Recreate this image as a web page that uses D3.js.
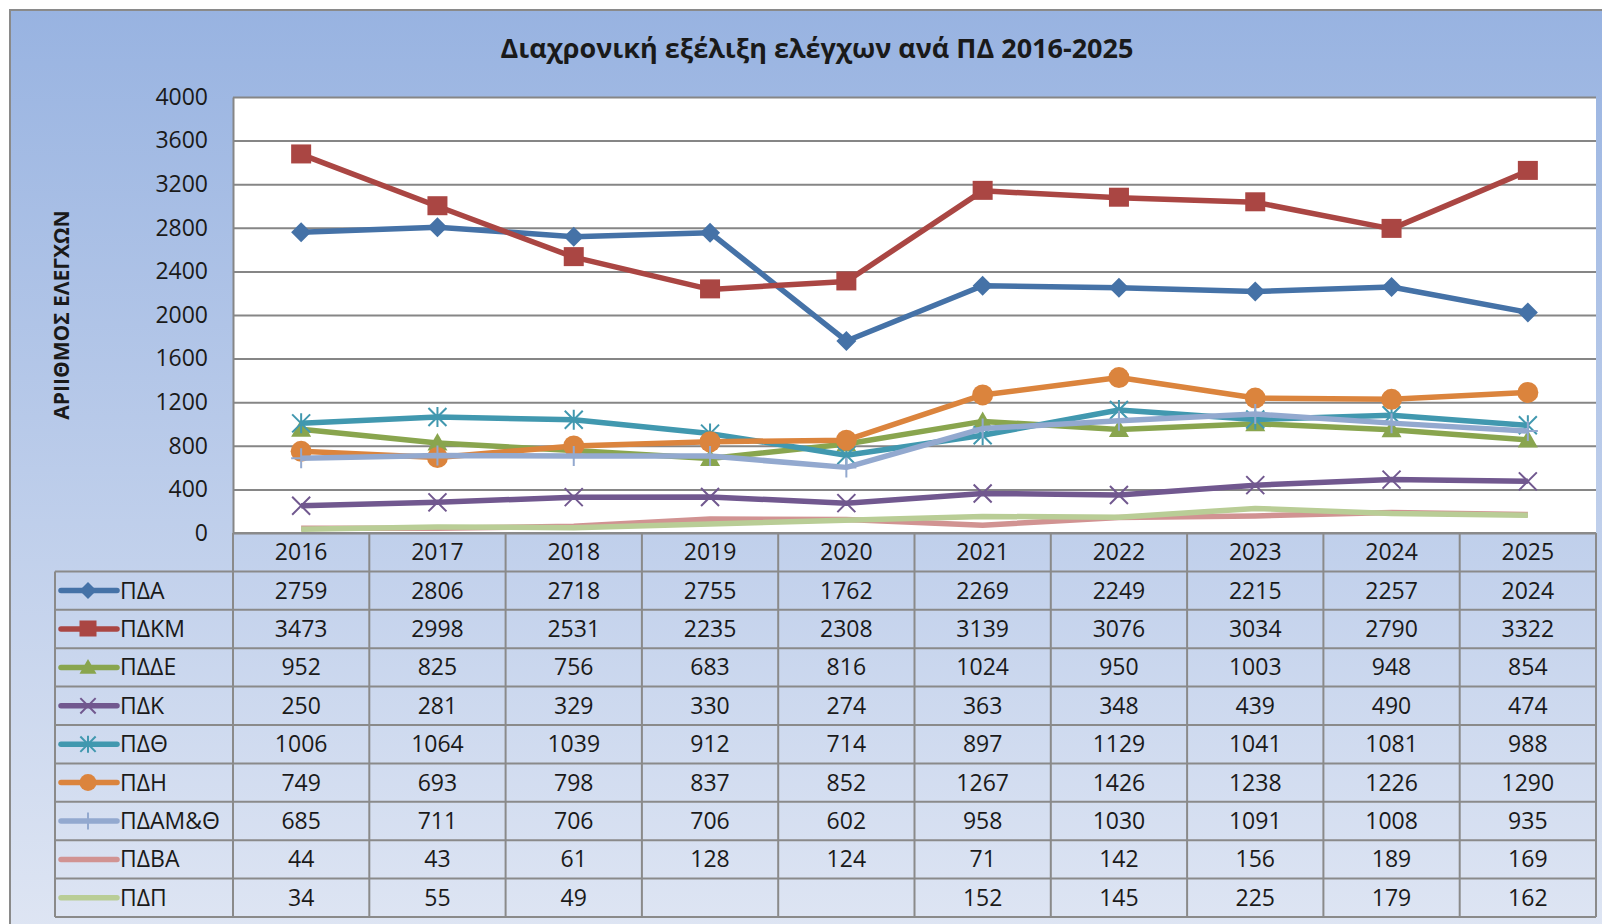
<!DOCTYPE html>
<html>
<head>
<meta charset="utf-8">
<script src="https://cdn.jsdelivr.net/npm/d3@7"></script>
<style>
  body { margin: 0; background: #fff; }
  text { font-family: "Open Sans", "Noto Sans", sans-serif; fill: #1a1a1a; }
</style>
</head>
<body>
<svg id="chart" width="1602" height="924"></svg>
<script>
// data
const years = [2016, 2017, 2018, 2019, 2020, 2021, 2022, 2023, 2024, 2025];
const seriesNames = ["ΠΔΑ", "ΠΔΚΜ", "ΠΔΔΕ", "ΠΔΚ", "ΠΔΘ", "ΠΔΗ", "ΠΔΑΜ&Θ", "ΠΔΒΑ", "ΠΔΠ"];
const pda   = [2759, 2806, 2718, 2755, 1762, 2269, 2249, 2215, 2257, 2024];
const pdkm  = [3473, 2998, 2531, 2235, 2308, 3139, 3076, 3034, 2790, 3322];
const pdde  = [952, 825, 756, 683, 816, 1024, 950, 1003, 948, 854];
const pdk   = [250, 281, 329, 330, 274, 363, 348, 439, 490, 474];
const pdth  = [1006, 1064, 1039, 912, 714, 897, 1129, 1041, 1081, 988];
const pdh   = [749, 693, 798, 837, 852, 1267, 1426, 1238, 1226, 1290];
const pdamth = [685, 711, 706, 706, 602, 958, 1030, 1091, 1008, 935];
const pdva  = [44, 43, 61, 128, 124, 71, 142, 156, 189, 169];
const pdp   = [34, 55, 49, null, null, 152, 145, 225, 179, 162];
const yTicks = [0, 400, 800, 1200, 1600, 2000, 2400, 2800, 3200, 3600, 4000];

const colors  = ["#4572A7", "#AA4643", "#89A54E", "#71588F", "#4198AF", "#DB843D", "#93A9CF", "#D19392", "#B9CD96"];
const markers = ["diamond", "square", "triangle", "x", "star", "circle", "plus", null, null];
const values  = [pda, pdkm, pdde, pdk, pdth, pdh, pdamth, pdva, pdp];

const series = seriesNames.map((name, i) => ({
  name, color: colors[i], marker: markers[i],
  points: years.map((yr, j) => ({ year: yr, v: values[i][j] }))
}));

const svg = d3.select("#chart");

// background gradient
const defs = svg.append("defs");
const grad = defs.append("linearGradient").attr("id", "bg")
  .attr("x1", 0).attr("y1", 0).attr("x2", 0).attr("y2", 1);
grad.append("stop").attr("offset", "0%").attr("stop-color", "#98B3E1");
grad.append("stop").attr("offset", "100%").attr("stop-color", "#DEE5F3");

svg.append("rect").attr("x", 10).attr("y", 10).attr("width", 1600).attr("height", 920)
  .attr("fill", "url(#bg)").attr("stroke", "#8a8a8a").attr("stroke-width", 2);

// layout
const plotL = 233, plotR = 1596, plotT = 97, plotB = 533;
const tableB = 917, legL = 55;

const x = d3.scaleBand().domain(years).range([plotL, plotR]);
const y = d3.scaleLinear().domain([0, 4000]).range([plotB, plotT]);
const rows = d3.scaleBand().domain(["hdr"].concat(seriesNames)).range([plotB, tableB]);

// title
svg.append("text").attr("x", 817).attr("y", 58).attr("text-anchor", "middle")
  .style("font-size", "27px").style("font-weight", "bold")
  .text("Διαχρονική εξέλιξη ελέγχων ανά ΠΔ 2016-2025");

// y-axis title
svg.append("text").attr("transform", "translate(69,315) rotate(-90)")
  .attr("text-anchor", "middle").style("font-size", "21px").style("font-weight", "bold")
  .text("ΑΡΙΙΘΜΟΣ ΕΛΕΓΧΩΝ");

// plot area
svg.append("rect").attr("x", plotL).attr("y", plotT).attr("width", plotR - plotL).attr("height", plotB - plotT)
  .attr("fill", "#fff");

const yAxis = svg.append("g").attr("transform", `translate(${plotL},0)`)
  .call(d3.axisLeft(y).tickValues(yTicks).tickFormat(d3.format("d"))
    .tickSizeInner(-(plotR - plotL)).tickSizeOuter(0).tickPadding(25));
yAxis.select(".domain").attr("stroke", "#868686").attr("stroke-width", 2);
yAxis.selectAll(".tick line").attr("stroke", "#868686").attr("stroke-width", 2);
yAxis.selectAll(".tick text").style("font-size", "23px").style("font-family", "'Open Sans', sans-serif")
  .attr("fill", "#1a1a1a");

// table grid
const grid = svg.append("g").attr("stroke", "#8a8a8a").attr("stroke-width", 2);
rows.domain().forEach((r, i) => {
  const yy = rows(r);
  grid.append("line").attr("x1", i === 0 ? plotL : legL).attr("x2", plotR).attr("y1", yy).attr("y2", yy);
});
grid.append("line").attr("x1", legL).attr("x2", plotR).attr("y1", tableB).attr("y2", tableB);
years.forEach(yr => {
  grid.append("line").attr("x1", x(yr)).attr("x2", x(yr)).attr("y1", plotB).attr("y2", tableB);
});
grid.append("line").attr("x1", plotR).attr("x2", plotR).attr("y1", plotB).attr("y2", tableB);
grid.append("line").attr("x1", legL).attr("x2", legL).attr("y1", rows(seriesNames[0])).attr("y2", tableB);

// header row
svg.append("g").selectAll("text").data(years).join("text")
  .attr("x", d => x(d) + x.bandwidth() / 2).attr("y", rows("hdr") + rows.bandwidth() / 2)
  .attr("dy", "0.35em").attr("text-anchor", "middle").style("font-size", "23px")
  .text(d => d);

// marker drawing
function drawMarker(g, type, color, s) {
  const h = s / 2;
  if (type === "diamond") {
    g.append("path").attr("d", `M0,${-h}L${h},0L0,${h}L${-h},0Z`).attr("fill", color);
  } else if (type === "square") {
    g.append("rect").attr("x", -h).attr("y", -h).attr("width", s).attr("height", s - 1).attr("fill", color);
  } else if (type === "triangle") {
    g.append("path").attr("d", `M0,${-h}L${h},${h * 0.75}L${-h},${h * 0.75}Z`).attr("fill", color);
  } else if (type === "circle") {
    g.append("circle").attr("r", h).attr("fill", color);
  } else if (type === "x" || type === "star" || type === "plus") {
    let d = "";
    if (type !== "plus") d += `M${-h * 0.9},${-h * 0.9}L${h * 0.9},${h * 0.9}M${h * 0.9},${-h * 0.9}L${-h * 0.9},${h * 0.9}`;
    if (type !== "x") d += `M0,${-h}L0,${h}`;
    if (type === "plus") d += `M${-h},0L${h},0`;
    g.append("path").attr("d", d).attr("stroke", color).attr("stroke-width", 2).attr("fill", "none");
  }
}

// legend + values
series.forEach(s => {
  const cy = rows(s.name) + rows.bandwidth() / 2;
  const lg = svg.append("g");
  lg.append("line").attr("x1", 61).attr("x2", 117).attr("y1", cy).attr("y2", cy)
    .attr("stroke", s.color).attr("stroke-width", 5.5).attr("stroke-linecap", "round");
  if (s.marker) drawMarker(lg.append("g").attr("transform", `translate(88,${cy})`), s.marker, s.color, 17);
  lg.append("text").attr("x", 120).attr("y", cy).attr("dy", "0.35em").style("font-size", "23px").text(s.name);

  svg.append("g").selectAll("text").data(s.points.filter(p => p.v != null)).join("text")
    .attr("x", p => x(p.year) + x.bandwidth() / 2).attr("y", cy).attr("dy", "0.35em")
    .attr("text-anchor", "middle").style("font-size", "23px").text(p => p.v);
});

// lines: later series drawn on top, gaps in ΠΔΠ are bridged
const line = d3.line().x(p => x(p.year) + x.bandwidth() / 2).y(p => y(p.v));
series.forEach(s => {
  const pts = s.points.filter(p => p.v != null);
  svg.append("path").datum(pts).attr("d", line).attr("fill", "none")
    .attr("stroke", s.color).attr("stroke-width", 5.5).attr("stroke-linejoin", "round");
  if (s.marker) {
    pts.forEach(p => {
      drawMarker(svg.append("g").attr("transform", `translate(${x(p.year) + x.bandwidth() / 2},${y(p.v)})`),
        s.marker, s.color, s.marker === "circle" ? 21 : 20);
    });
  }
});
</script>
</body>
</html>
